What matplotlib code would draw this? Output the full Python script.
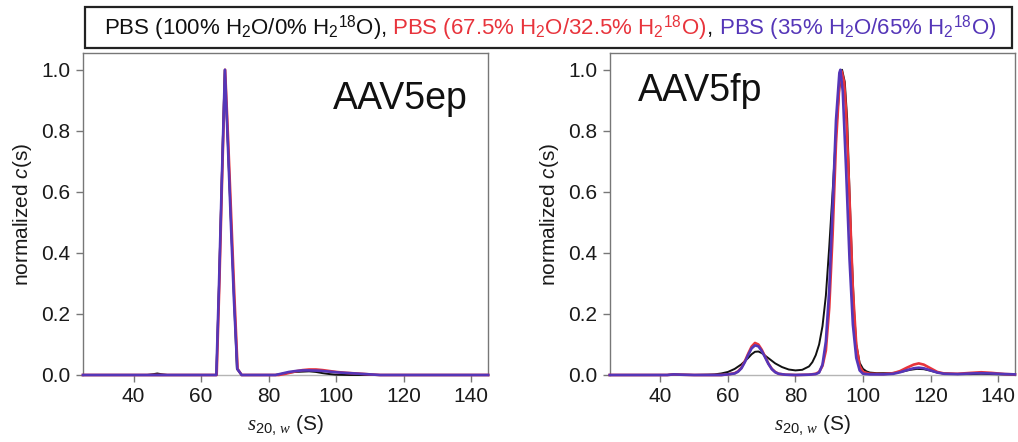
import matplotlib

matplotlib.use("Agg")
import matplotlib.pyplot as plt
from matplotlib.offsetbox import AnchoredOffsetbox, HPacker, TextArea
from matplotlib.patches import Rectangle

plt.rcParams["font.family"] = ["Liberation Sans", "DejaVu Sans"]
plt.rcParams["mathtext.fontset"] = "custom"
plt.rcParams["mathtext.rm"] = "Liberation Sans"
plt.rcParams["mathtext.it"] = "Liberation Serif:italic"
plt.rcParams["mathtext.sf"] = "Liberation Sans:italic"

BLACK = "#111111"
RED = "#e8343c"
BLUE = "#5536b8"

# ---- AAV5ep (left panel) ----
ep_black_s = [25, 44, 46, 47, 48, 50, 63, 64.5, 65.3, 66.1, 67.0, 67.9, 68.8, 69.7, 70.6, 72,
              82, 84, 86, 88, 90, 92, 94, 96, 98, 100, 104, 145]
ep_black_c = [0, 0, 0.003, 0.005, 0.003, 0, 0, 0, 0.3, 0.64, 1.0, 0.76, 0.51, 0.26, 0.02, 0,
              0, 0.004, 0.008, 0.01, 0.011, 0.012, 0.01, 0.006, 0.003, 0.001, 0, 0]

ep_red_s = [25, 63, 64.6, 65.4, 66.2, 67.1, 68.0, 68.9, 69.8, 70.8, 72,
            83, 85, 88, 90, 92, 94, 96, 98, 100, 103, 106, 110, 113, 145]
ep_red_c = [0, 0, 0, 0.3, 0.64, 1.0, 0.77, 0.52, 0.27, 0.02, 0,
            0, 0.004, 0.012, 0.016, 0.018, 0.018, 0.016, 0.013, 0.01, 0.007, 0.005, 0.002, 0, 0]

ep_blue_s = [25, 63, 64.5, 65.3, 66.1, 67.05, 67.9, 68.8, 69.7, 70.7, 72,
             82, 84, 86, 88, 90, 92, 95, 98, 101, 104, 107, 110, 113, 145]
ep_blue_c = [0, 0, 0, 0.3, 0.63, 1.0, 0.76, 0.5, 0.25, 0.02, 0,
             0, 0.005, 0.01, 0.013, 0.015, 0.015, 0.014, 0.011, 0.008, 0.006, 0.004, 0.002, 0, 0]

# ---- AAV5fp (right panel) ----
fp_black_s = [25, 42, 44, 46, 50, 54, 56, 58, 60, 62, 64, 66, 67, 68, 69, 70, 72, 74, 76, 78,
              80, 82, 84, 85, 86, 87, 88, 89, 90, 91, 92, 93, 93.8, 94.6, 95.3, 96, 96.7, 97.4,
              98, 99, 100, 101, 102, 104, 106, 108, 110, 112, 114, 116, 118, 120, 122, 124,
              128, 132, 135, 138, 142, 145]
fp_black_c = [0, 0, 0.002, 0.001, 0, 0.001, 0.002, 0.005, 0.01, 0.02, 0.035, 0.056, 0.068,
              0.076, 0.077, 0.072, 0.055, 0.038, 0.026, 0.018, 0.015, 0.017, 0.028, 0.042,
              0.065, 0.1, 0.16, 0.26, 0.42, 0.6, 0.79, 0.94, 1.0, 0.96, 0.84, 0.6, 0.38, 0.2,
              0.1, 0.04, 0.02, 0.012, 0.008, 0.006, 0.006, 0.006, 0.008, 0.012, 0.017, 0.02,
              0.019, 0.014, 0.008, 0.005, 0.003, 0.003, 0.004, 0.003, 0.002, 0.001]

fp_red_s = [25, 42, 44, 46, 50, 58, 60, 62, 63, 64, 65, 66, 67, 68, 69, 70, 71, 72, 73, 74, 75,
            77, 80, 84, 86, 87, 88, 89, 90, 91, 92, 93, 93.7, 94.4, 95, 96, 97, 98, 99, 100,
            102, 106, 109, 111, 113, 115, 116.5, 118, 120, 122, 124, 128, 132, 135, 138, 142, 145]
fp_red_c = [0, 0, 0.002, 0.001, 0, 0, 0.002, 0.006, 0.012, 0.024, 0.045, 0.07, 0.093, 0.105,
            0.1, 0.083, 0.06, 0.037, 0.02, 0.01, 0.004, 0.001, 0, 0.001, 0.004, 0.01, 0.03,
            0.08, 0.22, 0.46, 0.76, 0.95, 0.995, 0.96, 0.86, 0.58, 0.28, 0.1, 0.03, 0.01,
            0.004, 0.003, 0.006, 0.013, 0.024, 0.034, 0.038, 0.034, 0.022, 0.01, 0.005, 0.004,
            0.007, 0.009, 0.007, 0.003, 0.002]

fp_blue_s = [25, 42, 44, 46, 50, 58, 60, 62, 63, 64, 65, 66, 67, 68, 69, 70, 71, 72, 73, 74, 75,
             77, 80, 84, 86, 87, 88, 89, 90, 91, 92, 93, 93.3, 94, 95, 96, 97, 98, 99, 100,
             102, 106, 109, 111, 113, 115, 116.5, 118, 120, 122, 124, 128, 132, 135, 138, 142, 145]
fp_blue_c = [0, 0, 0.002, 0.001, 0, 0, 0.002, 0.005, 0.011, 0.022, 0.042, 0.066, 0.087, 0.097,
             0.094, 0.079, 0.058, 0.036, 0.019, 0.009, 0.004, 0.001, 0, 0.001, 0.003, 0.008,
             0.034, 0.11, 0.28, 0.55, 0.835, 0.99, 1.0, 0.93, 0.67, 0.38, 0.165, 0.056, 0.015,
             0.004, 0.002, 0.002, 0.004, 0.009, 0.016, 0.022, 0.024, 0.022, 0.015, 0.008, 0.004,
             0.003, 0.005, 0.006, 0.005, 0.003, 0.002]

x_ticks = [40, 60, 80, 100, 120, 140]
y_ticks = [0.0, 0.2, 0.4, 0.6, 0.8, 1.0]

legend_parts = [
    ("PBS (100% H$_2$O/0% H$_2$$^{18}$O),", BLACK),
    (" PBS (67.5% H$_2$O/32.5% H$_2$$^{18}$O)", RED),
    (",", BLACK),
    (" PBS (35% H$_2$O/65% H$_2$$^{18}$O)", BLUE),
]


def style_axes(ax):
    ax.set_xlim(25, 145)
    ax.set_ylim(0, 1.055)
    ax.set_xticks(x_ticks)
    ax.set_yticks(y_ticks)
    ax.set_yticklabels([f"{v:.1f}" for v in y_ticks])
    for side in ("left", "top", "right"):
        ax.spines[side].set_color("#777777")
        ax.spines[side].set_linewidth(1.0)
    ax.spines["bottom"].set_color("#b5b5b5")
    ax.spines["bottom"].set_linewidth(1.0)
    ax.tick_params(direction="out", length=5, width=1.0, color="#777777",
                   labelsize=15, labelcolor="#1a1a1a", pad=4)
    ax.set_xlabel(r"$\mathit{s_{20,\,w}}$ (S)", fontsize=15, color="#1a1a1a", labelpad=5)
    ax.set_ylabel(r"normalized $\mathsf{c}$(s)", fontsize=15, color="#1a1a1a", labelpad=5)


fig = plt.figure(figsize=(10.18, 4.42), dpi=100)
ax1 = fig.add_axes([0.0815, 0.1516, 0.398, 0.7285])
ax2 = fig.add_axes([0.599, 0.1516, 0.398, 0.7285])

panels = [
    (ax1, "AAV5ep", (ep_black_s, ep_black_c), (ep_red_s, ep_red_c), (ep_blue_s, ep_blue_c)),
    (ax2, "AAV5fp", (fp_black_s, fp_black_c), (fp_red_s, fp_red_c), (fp_blue_s, fp_blue_c)),
]
for ax, name, blk, red, blue in panels:
    ax.plot(*blk, color=BLACK, lw=1.4, clip_on=False, zorder=3)
    ax.plot(*red, color=RED, lw=1.9, clip_on=False, zorder=4)
    ax.plot(*blue, color=BLUE, lw=1.9, clip_on=False, zorder=5)
    style_axes(ax)

ax1.text(0.95, 0.827, "AAV5ep", transform=ax1.transAxes, ha="right", va="baseline",
         fontsize=27, color="#111111")
ax2.text(0.069, 0.85, "AAV5fp", transform=ax2.transAxes, ha="left", va="baseline",
         fontsize=27, color="#111111")

# legend strip across the top
fig.patches.append(Rectangle((85 / 1018, 1 - 48 / 442), 927 / 1018, 41 / 442,
                             transform=fig.transFigure, fill=False,
                             edgecolor="#222222", lw=1.6))
texts = [TextArea(t, textprops=dict(color=c, fontsize=16)) for t, c in legend_parts]
row = HPacker(children=texts, align="baseline", pad=0, sep=0)
legend_box = AnchoredOffsetbox(loc="center", child=row, pad=0, borderpad=0, frameon=False,
                               bbox_to_anchor=(550 / 1018, 1 - 28 / 442),
                               bbox_transform=fig.transFigure)
fig.add_artist(legend_box)

fig.savefig("out.png", dpi=100)
